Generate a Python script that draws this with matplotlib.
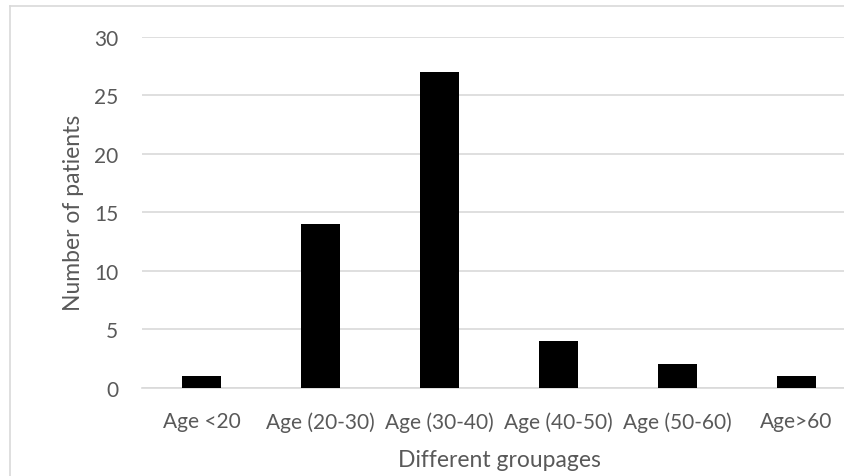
import matplotlib
matplotlib.use("Agg")
import matplotlib.pyplot as plt
from matplotlib.lines import Line2D

categories = ["Age <20", "Age (20-30)", "Age (30-40)", "Age (40-50)", "Age (50-60)", "Age>60"]
patients = [1, 14, 27, 4, 2, 1]
yticks = [0, 5, 10, 15, 20, 25, 30]

plt.rcParams["font.family"] = ["Lato", "DejaVu Sans"]
GRAY = "#d9d9d9"; TXT = "#595959"
W, H = 844, 477

fig = plt.figure(figsize=(W / 100, H / 100), dpi=100)
# plot area runs past the right edge (reference is cropped)
ax = fig.add_axes([142 / W, 1 - 388.7 / H, 714 / W, (388.7 - 37.7) / H])
x = range(len(categories))
ax.bar(x, patients, width=0.33, color="black", zorder=3)
ax.set_xlim(-0.5, 5.5); ax.set_ylim(0, 30)
ax.set_yticks(yticks)
ax.yaxis.grid(True, color=GRAY, lw=1.2); ax.set_axisbelow(True)
ax.set_xticks(list(x)); ax.set_xticklabels(categories)
for s in ["top", "right", "left"]:
    ax.spines[s].set_visible(False)
ax.spines["bottom"].set_color(GRAY); ax.spines["bottom"].set_linewidth(1.2)
ax.tick_params(axis="both", length=0, labelsize=15, colors=TXT)
ax.tick_params(axis="y", pad=17); ax.tick_params(axis="x", pad=17)
ax.set_ylabel("Number of patients", fontsize=16.5, color=TXT, labelpad=7)
ax.set_xlabel("Different groupages", fontsize=16.5, color=TXT, labelpad=12)

# chart-area border (cropped on right and bottom)
fig.add_artist(Line2D([9.5 / W, 9.5 / W], [0, 1 - 7.3 / H], transform=fig.transFigure, color=GRAY, lw=1.2))
fig.add_artist(Line2D([9.5 / W, 1], [1 - 7.3 / H, 1 - 7.3 / H], transform=fig.transFigure, color=GRAY, lw=1.2))

fig.savefig("out.png", dpi=100)
